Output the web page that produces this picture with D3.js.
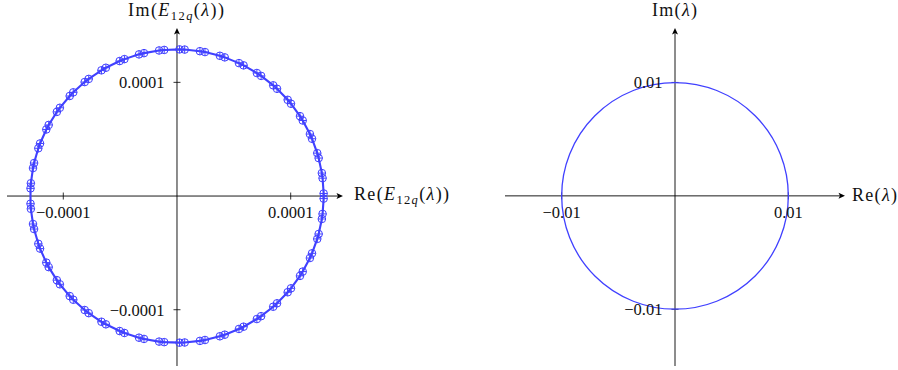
<!DOCTYPE html>
<html>
<head>
<meta charset="utf-8">
<script src="https://cdn.jsdelivr.net/npm/d3@7"></script>
<style>
  html, body { margin: 0; padding: 0; background: #fff; }
  svg { display: block; }
  text { font-family: "Liberation Serif", "DejaVu Serif", serif; fill: #111; }
</style>
</head>
<body>
<svg id="chart" width="898" height="370"></svg>
<script>
// ---------- DATA ----------
// Left panel: eigenvalues E_{12q}(λ), in units of 1e-4 (pairs of nearly coincident points)
const eigRe = [1.2898, 1.2898, 1.2804, 1.2741, 1.2460, 1.2336, 1.1874, 1.1691, 1.1058, 1.0819, 1.0025, 0.9736, 0.8798, 0.8463, 0.7399, 0.7026, 0.5856, 0.5452, 0.4200, 0.3772, 0.2461, 0.2018, 0.0675, 0.0225,
  -0.1124, -0.1572, -0.2902, -0.3339, -0.4623, -0.5040, -0.6254, -0.6644, -0.7763, -0.8118, -0.9122, -0.9434, -1.0302, -1.0567, -1.1283, -1.1494, -1.2043, -1.2197, -1.2569, -1.2663, -1.2851, -1.2882,
  -1.2882, -1.2851, -1.2663, -1.2569, -1.2197, -1.2043, -1.1494, -1.1283, -1.0567, -1.0302, -0.9434, -0.9122, -0.8118, -0.7763, -0.6644, -0.6254, -0.5040, -0.4623, -0.3339, -0.2902, -0.1572, -0.1124,
  0.0225, 0.0675, 0.2018, 0.2461, 0.3772, 0.4200, 0.5452, 0.5856, 0.7026, 0.7399, 0.8463, 0.8798, 0.9736, 1.0025, 1.0819, 1.1058, 1.1691, 1.1874, 1.2336, 1.2460, 1.2741, 1.2804];
const eigIm = [-0.0225, 0.0225, 0.1572, 0.2018, 0.3339, 0.3772, 0.5040, 0.5452, 0.6644, 0.7026, 0.8118, 0.8463, 0.9434, 0.9736, 1.0567, 1.0819, 1.1494, 1.1691, 1.2197, 1.2336, 1.2663, 1.2741, 1.2882, 1.2898,
  1.2851, 1.2804, 1.2569, 1.2460, 1.2043, 1.1874, 1.1283, 1.1058, 1.0302, 1.0025, 0.9122, 0.8798, 0.7763, 0.7399, 0.6254, 0.5856, 0.4623, 0.4200, 0.2902, 0.2461, 0.1124, 0.0675,
  -0.0675, -0.1124, -0.2461, -0.2902, -0.4200, -0.4623, -0.5856, -0.6254, -0.7399, -0.7763, -0.8798, -0.9122, -1.0025, -1.0302, -1.1058, -1.1283, -1.1874, -1.2043, -1.2460, -1.2569, -1.2804, -1.2851,
  -1.2898, -1.2882, -1.2741, -1.2663, -1.2336, -1.2197, -1.1691, -1.1494, -1.0819, -1.0567, -0.9736, -0.9434, -0.8463, -0.8118, -0.7026, -0.6644, -0.5452, -0.5040, -0.3772, -0.3339, -0.2018, -0.1572];
const leftTickValues = [-1, 1];            // units of 1e-4
const leftTickLabels = ["\u22120.0001", "0.0001"];

// Right panel: circle |λ| = 0.01
const lambdaRadius = [0.01];
const rightTickValues = [-0.01, 0.01];
const rightTickLabels = ["\u22120.01", "0.01"];

// ---------- DRAWING ----------
const svg = d3.select("#chart");
const BLUE = "rgb(64,64,255)";
const FS = 16.5;

function arrowRight(g, x, y) {
  g.append("path").attr("d", `M${x},${y} L${x-6.5},${y-3} L${x-5},${y} L${x-6.5},${y+3} Z`).attr("fill", "#000");
}
function arrowUp(g, x, y) {
  g.append("path").attr("d", `M${x},${y} L${x-3},${y+6.5} L${x},${y+5} L${x+3},${y+6.5} Z`).attr("fill", "#000");
}

function mathLabel(g, x, y, parts, anchor, width) {
  const t = g.append("text").attr("x", x).attr("y", y).attr("font-size", 18).attr("text-anchor", anchor || "start");
  let shift = 0;
  parts.forEach(p => {
    const ts = t.append("tspan").text(p.t);
    if (p.it) ts.attr("font-style", "italic");
    const target = p.sub ? 4 : 0;
    if (target !== shift) { ts.attr("dy", target - shift); shift = target; }
    if (p.sub) ts.attr("font-size", 12.5);
  });
  if (width) t.attr("textLength", width).attr("lengthAdjust", "spacing");
  return t;
}

function drawAxes(g, xs, ys, xExt, yExt) {
  const x0 = xs(0), y0 = ys(0);
  g.append("line").attr("x1", xs(xExt[0])).attr("x2", xs(xExt[1]) - 3).attr("y1", y0).attr("y2", y0)
    .attr("stroke", "#000").attr("stroke-width", 0.9);
  arrowRight(g, xs(xExt[1]), y0);
  g.append("line").attr("x1", x0).attr("x2", x0).attr("y1", ys(yExt[0])).attr("y2", ys(yExt[1]) + 3)
    .attr("stroke", "#000").attr("stroke-width", 0.9);
  arrowUp(g, x0, ys(yExt[1]));
}

function drawTicks(g, xs, ys, vals) {
  const x0 = xs(0), y0 = ys(0);
  vals.forEach(v => {
    g.append("line").attr("x1", xs(v)).attr("x2", xs(v)).attr("y1", y0 - 3.5).attr("y2", y0 + 3.5)
      .attr("stroke", "#000").attr("stroke-width", 0.8);
    g.append("line").attr("x1", x0 - 3.5).attr("x2", x0 + 3.5).attr("y1", ys(v)).attr("y2", ys(v))
      .attr("stroke", "#000").attr("stroke-width", 0.8);
  });
}
function drawTickLabels(g, xs, ys, vals, labels) {
  const x0 = xs(0), y0 = ys(0);
  vals.forEach((v, i) => {
    g.append("text").attr("x", xs(v)).attr("y", y0 + 22).attr("text-anchor", "middle")
      .attr("font-size", FS).text(labels[i]);
    g.append("text").attr("x", x0 - 12.5).attr("y", ys(v) + 5.8).attr("text-anchor", "end")
      .attr("font-size", FS).text(labels[i]);
  });
}

// ----- Left panel -----
const gL = svg.append("g");
const xL = d3.scaleLinear().domain([-1.495, 1.46]).range([7, 343]);
const yL = d3.scaleLinear().domain([-1.495, 1.478]).range([366, 28]);
drawAxes(gL, xL, yL, [-1.495, 1.46], [-1.495, 1.478]);
drawTicks(gL, xL, yL, leftTickValues);

const pts = eigRe.map((r, i) => [r, eigIm[i]]);
gL.append("path")
  .attr("d", d3.line().x(d => xL(d[0])).y(d => yL(d[1])).curve(d3.curveLinearClosed)(pts))
  .attr("fill", "none").attr("stroke", BLUE).attr("stroke-width", 2.1);
const mk = gL.selectAll("g.mk").data(pts).join("g").attr("class", "mk")
  .attr("transform", d => `translate(${xL(d[0])},${yL(d[1])})`);
const MR = 3.8;
mk.append("circle").attr("r", MR).attr("fill", "none").attr("stroke", BLUE).attr("stroke-width", 1.0);
mk.append("path").attr("d", `M${-MR},0 H${MR} M0,${-MR} V${MR}`).attr("stroke", BLUE).attr("stroke-width", 1.0);

drawTickLabels(gL, xL, yL, leftTickValues, leftTickLabels);

mathLabel(gL, 128, 16, [{t: "Im("}, {t: "E", it: true}, {t: "12", sub: true}, {t: "q", it: true, sub: true}, {t: "("}, {t: "λ", it: true}, {t: "))"}], "start", 96);
mathLabel(gL, 354, 200, [{t: "Re("}, {t: "E", it: true}, {t: "12", sub: true}, {t: "q", it: true, sub: true}, {t: "("}, {t: "λ", it: true}, {t: "))"}], "start", 95);

// ----- Right panel -----
const gR = svg.append("g");
const xR = d3.scaleLinear().domain([-0.015, 0.015]).range([505, 845]);
const yR = d3.scaleLinear().domain([-0.015, 0.0148]).range([366, 28]);
drawAxes(gR, xR, yR, [-0.015, 0.015], [-0.015, 0.0148]);
drawTicks(gR, xR, yR, rightTickValues);
gR.selectAll("circle.lam").data(lambdaRadius).join("circle").attr("class", "lam")
  .attr("cx", xR(0)).attr("cy", yR(0)).attr("r", d => xR(d) - xR(0))
  .attr("fill", "none").attr("stroke", BLUE).attr("stroke-width", 1.3);
drawTickLabels(gR, xR, yR, rightTickValues, rightTickLabels);
mathLabel(gR, 652, 16, [{t: "Im("}, {t: "λ", it: true}, {t: ")"}], "start", 45);
mathLabel(gR, 852, 201, [{t: "Re("}, {t: "λ", it: true}, {t: ")"}], "start", 45);
</script>
</body>
</html>
